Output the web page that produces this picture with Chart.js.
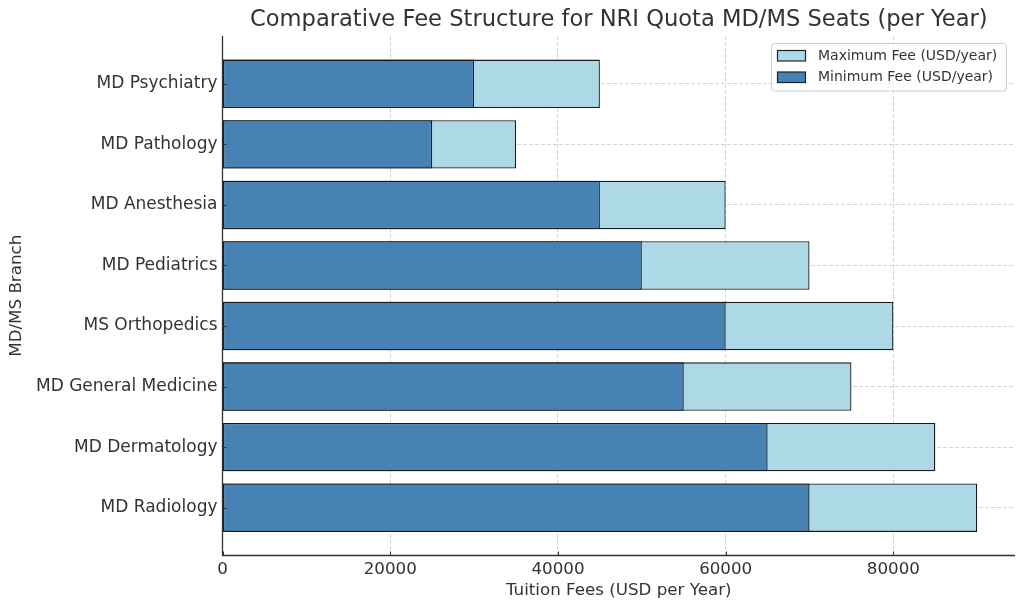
<!DOCTYPE html>
<html>
<head>
<meta charset="utf-8">
<script src="https://cdn.jsdelivr.net/npm/chart.js@4"></script>
<style>
  html, body { margin: 0; padding: 0; background: #fff; }
  #wrap { width: 1024px; height: 611px; }
</style>
</head>
<body>
<div id="wrap"><canvas id="c" width="1024" height="611"></canvas></div>
<script>
// Categories, bottom to top (as plotted)
const branches = ['MD Radiology', 'MD Dermatology', 'MD General Medicine', 'MS Orthopedics',
                  'MD Pediatrics', 'MD Anesthesia', 'MD Pathology', 'MD Psychiatry'];
const minFee = [70000, 65000, 55000, 60000, 50000, 45000, 25000, 30000];
const maxFee = [90000, 85000, 75000, 80000, 70000, 60000, 35000, 45000];
const xTicks = [0, 20000, 40000, 60000, 80000];
const titleText = 'Comparative Fee Structure for NRI Quota MD/MS Seats (per Year)';
const xTitle = 'Tuition Fees (USD per Year)';
const yTitle = 'MD/MS Branch';
const minLabel = 'Minimum Fee (USD/year)';
const maxLabel = 'Maximum Fee (USD/year)';

const FONT = "'DejaVu Sans', sans-serif";
const TXT = '#333333';

const titlePlugin = {
  id: 'titlePlugin',
  afterDraw(chart) {
    const ctx = chart.ctx, a = chart.chartArea;
    ctx.save();
    ctx.font = '22.6px ' + FONT;
    ctx.fillStyle = TXT;
    ctx.textAlign = 'center';
    ctx.textBaseline = 'middle';
    ctx.fillText(titleText, (a.left + a.right) / 2, 20);
    ctx.restore();
  }
};

const axisPlugin = {
  id: 'axisLines',
  afterDraw(chart) {
    const ctx = chart.ctx, a = chart.chartArea;
    const xs = chart.scales.x, ys = chart.scales.y;
    ctx.save();
    ctx.setLineDash([]);
    ctx.strokeStyle = '#333';
    ctx.lineWidth = 1;
    ctx.beginPath();
    xs.ticks.forEach(t => {
      const p = Math.round(xs.getPixelForValue(t.value)) + 0.5;
      ctx.moveTo(p, a.bottom); ctx.lineTo(p, a.bottom - 4);
    });
    ys.ticks.forEach(t => {
      const p = Math.round(ys.getPixelForValue(t.value)) + 0.5;
      ctx.moveTo(a.left, p); ctx.lineTo(a.left + 4, p);
    });
    ctx.stroke();
    ctx.lineWidth = 1.3;
    ctx.beginPath();
    ctx.moveTo(a.left, a.top); ctx.lineTo(a.left, a.bottom); ctx.lineTo(a.right, a.bottom);
    ctx.stroke();
    ctx.restore();
  }
};

const legendPlugin = {
  id: 'boxLegend',
  afterDraw(chart) {
    const ctx = chart.ctx;
    const ds = chart.data.datasets.slice().reverse();
    const bx = 771.5, by = 43.5, bw = 235, bh = 47.5, r = 3;
    ctx.save();
    ctx.fillStyle = 'rgba(255,255,255,0.8)';
    ctx.strokeStyle = '#cccccc';
    ctx.lineWidth = 1;
    ctx.beginPath();
    ctx.roundRect(bx, by, bw, bh, r);
    ctx.fill();
    ctx.stroke();
    ctx.font = '14px ' + FONT;
    ctx.textBaseline = 'middle';
    ctx.textAlign = 'left';
    ds.forEach((d, i) => {
      const y = 56 + i * 21.5;
      ctx.fillStyle = d.backgroundColor;
      ctx.strokeStyle = '#222';
      ctx.lineWidth = 1.2;
      ctx.fillRect(777.5, y - 5.5, 28, 10.5);
      ctx.strokeRect(777.5, y - 5.5, 28, 10.5);
      ctx.fillStyle = TXT;
      ctx.fillText(d.label, 818, y);
    });
    ctx.restore();
  }
};

const gridCfg = {
  color: 'rgba(176,176,176,0.55)',
  lineWidth: 1,
  drawTicks: false,
  offset: false
};
const borderCfg = { display: false, dash: [4, 2] };

new Chart(document.getElementById('c'), {
  type: 'bar',
  data: {
    datasets: [
      {
        label: minLabel,
        data: minFee.map((v, i) => ({ x: v, y: i })),
        backgroundColor: '#4682B4',
        borderColor: '#1a1a1a',
        borderWidth: 1.3,
        borderSkipped: false,
        grouped: false,
        categoryPercentage: 1,
        barPercentage: 0.8
      },
      {
        label: maxLabel,
        data: maxFee.map((v, i) => ({ x: v, y: i })),
        backgroundColor: '#ADD8E6',
        borderColor: '#1a1a1a',
        borderWidth: 1.3,
        borderSkipped: false,
        grouped: false,
        categoryPercentage: 1,
        barPercentage: 0.8
      }
    ]
  },
  options: {
    indexAxis: 'y',
    responsive: false,
    animation: false,
    devicePixelRatio: 1,
    layout: { padding: { top: 36, right: 9, left: 0, bottom: 0 } },
    plugins: {
      legend: { display: false },
      title: { display: false },
      tooltip: { enabled: false }
    },
    scales: {
      x: {
        type: 'linear',
        min: 0,
        max: 94500,
        offset: false,
        z: 1,
        afterBuildTicks: s => { s.ticks = xTicks.map(v => ({ value: v })); },
        afterFit: s => { s.height = 55.5; },
        grid: Object.assign({}, gridCfg),
        border: Object.assign({}, borderCfg),
        ticks: {
          color: TXT,
          font: { family: FONT, size: 16.7 },
          padding: 4,
          maxRotation: 0,
          callback: v => String(v)
        },
        title: {
          display: true,
          text: xTitle,
          color: TXT,
          font: { family: FONT, size: 16.7 },
          padding: { top: 0, bottom: 10 }
        }
      },
      y: {
        type: 'linear',
        min: -0.79,
        max: 7.79,
        offset: false,
        z: 1,
        afterBuildTicks: s => { s.ticks = branches.map((b, i) => ({ value: i })); },
        afterFit: s => { s.width = 222.5; },
        grid: Object.assign({}, gridCfg),
        border: Object.assign({}, borderCfg),
        ticks: {
          color: TXT,
          font: { family: FONT, size: 17 },
          padding: 5,
          callback: v => branches[v]
        },
        title: {
          display: true,
          text: yTitle,
          color: TXT,
          font: { family: FONT, size: 16.7 },
          padding: { top: 7, bottom: 0 }
        }
      }
    }
  },
  plugins: [titlePlugin, axisPlugin, legendPlugin]
});
</script>
</body>
</html>
